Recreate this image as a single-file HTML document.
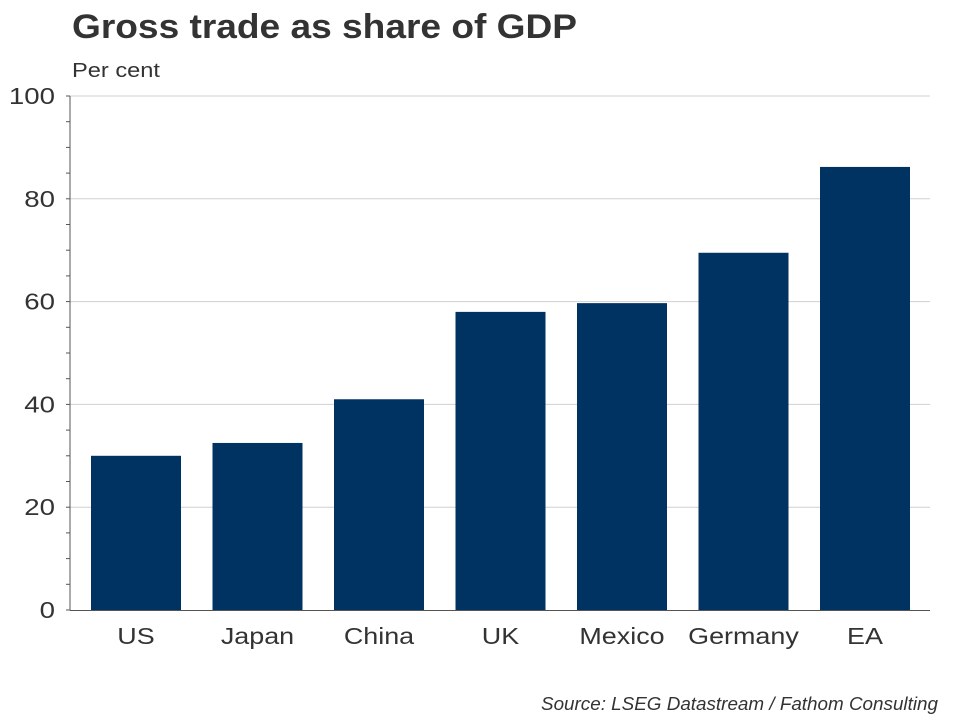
<!DOCTYPE html>
<html><head><meta charset="utf-8"><style>
body{margin:0;background:#fff;}
svg{display:block;font-family:"Liberation Sans",Arial,sans-serif;}
</style></head><body>
<svg id="chart" width="960" height="720">
<text x="72" y="38" font-size="34" font-weight="bold" fill="#333" textLength="505" lengthAdjust="spacingAndGlyphs">Gross trade as share of GDP</text>
<text x="72" y="77" font-size="20" fill="#333" textLength="88" lengthAdjust="spacingAndGlyphs">Per cent</text>
<text x="541" y="710" font-size="18" font-style="italic" fill="#333" textLength="397" lengthAdjust="spacingAndGlyphs">Source: LSEG Datastream / Fathom Consulting</text>
<g id="grid"></g><g id="bars"></g><g id="axes"></g>
</svg>
<script>
const categories=["US","Japan","China","UK","Mexico","Germany","EA"];
const values=[30.0,32.5,41.0,58.0,59.7,69.5,86.2];
const yTicks=[0,20,40,60,80,100];
const NS="http://www.w3.org/2000/svg";
const y0=610,y1=96,xL=75.25,xR=925.75;
const y=v=>y0-(v/100)*(y0-y1);
const band=(xR-xL)/categories.length;
const xc=i=>xL+band*(i+0.5);
function mk(tag,attrs,parent){const e=document.createElementNS(NS,tag);for(const k in attrs)e.setAttribute(k,attrs[k]);parent.appendChild(e);return e;}
function widen(t,f){const w=t.getComputedTextLength();t.setAttribute('textLength',w*f);t.setAttribute('lengthAdjust','spacingAndGlyphs');}
const grid=document.getElementById('grid'),bars=document.getElementById('bars'),axes=document.getElementById('axes');
yTicks.forEach(t=>{
 if(t>0){const g=mk('line',{x1:70,x2:930,y1:y(t),y2:y(t),stroke:'#d0d0d0','stroke-width':1},grid);
 
 }
 const l=mk('text',{x:55,y:y(t)+8,'font-size':23,fill:'#333','text-anchor':'end'},axes);
 l.textContent=t;
 
 
 widen(l,1.2);
});
for(let v=0;v<=100;v+=5){const tk=mk('line',{x1:66,x2:70,y1:y(v),y2:y(v),stroke:'#555','stroke-width':1},axes);
 
 }
categories.forEach((c,i)=>{
 const w=90;
 const r=mk('rect',{x:xc(i)-w/2,y:y(values[i]),width:w,height:y0-y(values[i]),fill:'#003262'},bars);
 
 
 const t=mk('text',{x:xc(i),y:644,'font-size':23,fill:'#333','text-anchor':'middle'},axes);
 t.textContent=c;
 
 
 widen(t,1.17);
});
const ya=mk('line',{x1:70,x2:70,y1:96,y2:610,stroke:'#555','stroke-width':1},axes);


const xa=mk('line',{x1:70,x2:930,y1:610.5,y2:610.5,stroke:'#555','stroke-width':1},axes);


</script>
</body></html>
